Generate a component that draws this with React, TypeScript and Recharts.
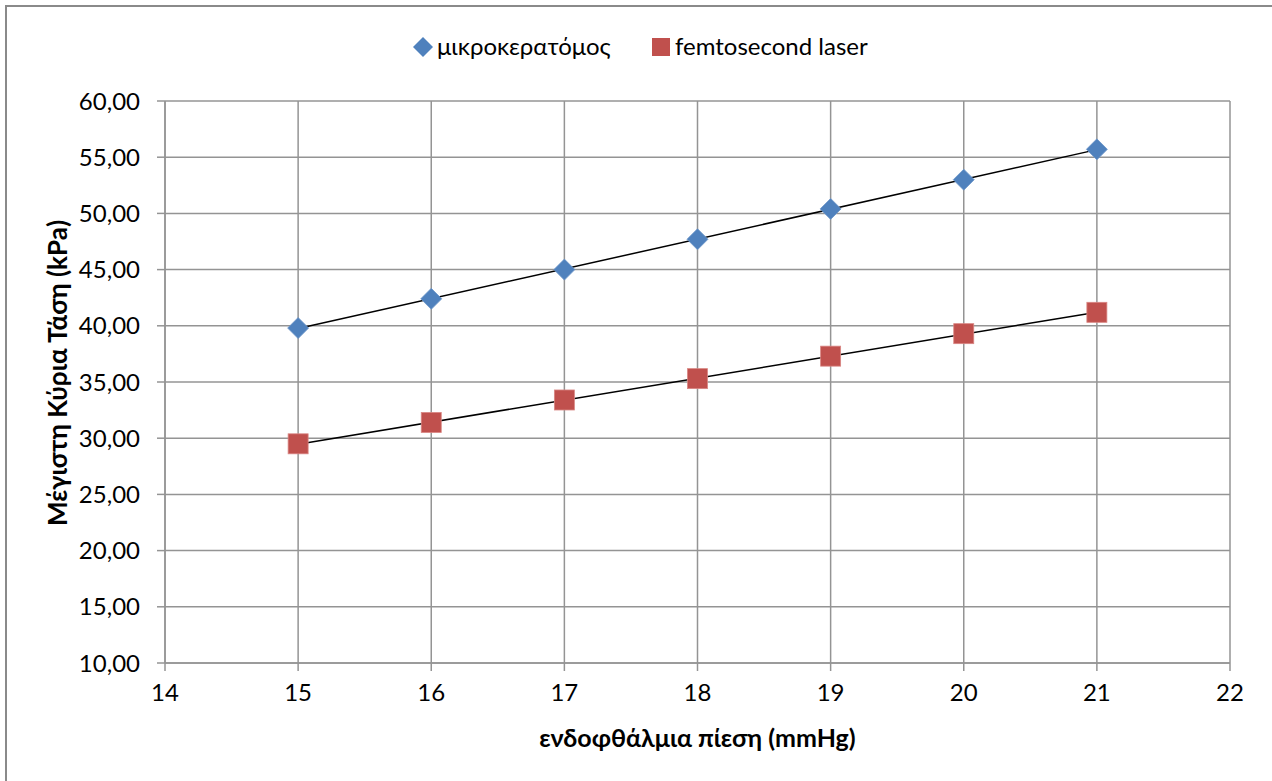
import { ComposedChart, Scatter, Line, XAxis, YAxis, CartesianGrid } from 'recharts';

// ενδοφθάλμια πίεση (mmHg)
const PRESSURE = [15, 16, 17, 18, 19, 20, 21];
// Μέγιστη Κύρια Τάση (kPa)
const MICROKERATOME = [39.8, 42.4, 45.0, 47.7, 50.4, 53.0, 55.7];
const FEMTO_LASER = [29.5, 31.4, 33.4, 35.3, 37.3, 39.3, 41.2];

const X_TICKS = [14, 15, 16, 17, 18, 19, 20, 21, 22];
const Y_TICKS = [10, 15, 20, 25, 30, 35, 40, 45, 50, 55, 60];

const SERIES_NAMES = ['μικροκερατόμος', 'femtosecond laser'];

const BLUE = '#4F81BD';
const RED = '#C0504D';
const GRID = '#949494';
const FONT = "Lato, 'Open Sans', sans-serif";

function points(xs: number[], ys: number[]) {
  return xs.map((x, i) => ({ x, y: ys[i] }));
}

// linear trendline (least squares), like Excel's
function trend(xs: number[], ys: number[]) {
  const n = xs.length;
  const mx = xs.reduce((a, b) => a + b, 0) / n;
  const my = ys.reduce((a, b) => a + b, 0) / n;
  let sxy = 0, sxx = 0;
  xs.forEach((x, i) => { sxy += (x - mx) * (ys[i] - my); sxx += (x - mx) ** 2; });
  const k = sxy / sxx;
  const b = my - k * mx;
  return [xs[0], xs[n - 1]].map(x => ({ x, y: k * x + b }));
}

function Diamond(props: any) {
  const { cx, cy } = props;
  if (cx == null || cy == null) return null;
  const r = 10.5;
  return (
    <polygon
      points={`${cx},${cy - r} ${cx + r},${cy} ${cx},${cy + r} ${cx - r},${cy}`}
      fill={BLUE} stroke="#6f97c9" strokeWidth={0.8}
    />
  );
}

function Square(props: any) {
  const { cx, cy } = props;
  if (cx == null || cy == null) return null;
  return <rect x={cx - 10} y={cy - 10} width={20} height={20} fill={RED} stroke="#d98683" strokeWidth={0.8} />;
}

const fmt = (v: number) => v.toFixed(2).replace('.', ',');

export default function App() {
  const tickStyle = { fill: '#000', fontSize: 24, fontFamily: FONT };
  const titleStyle = { fill: '#000', fontSize: 25, fontWeight: 700, fontFamily: FONT };

  return (
    <div style={{ position: 'absolute', left: 0, top: 0, width: 1272, height: 781, overflow: 'hidden', background: '#fff', fontFamily: FONT }}>
      <div style={{ position: 'absolute', left: 5, top: 5, width: 1300, height: 800, borderLeft: '2px solid #8a8a8a', borderTop: '2px solid #8a8a8a' }} />

      {/* legend */}
      <div style={{ position: 'absolute', left: 0, top: 33, width: 1272, height: 28, fontSize: 24, color: '#000' }}>
        <svg style={{ position: 'absolute', left: 412, top: 3 }} width={22} height={22}>
          <polygon points="11,1 21,11 11,21 1,11" fill={BLUE} />
        </svg>
        <span style={{ position: 'absolute', left: 437, top: -1, lineHeight: '28px' }}>{SERIES_NAMES[0]}</span>
        <svg style={{ position: 'absolute', left: 652, top: 5 }} width={18} height={18}>
          <rect x={0} y={0} width={18} height={18} fill={RED} />
        </svg>
        <span style={{ position: 'absolute', left: 675, top: -1, lineHeight: '28px' }}>{SERIES_NAMES[1]}</span>
      </div>

      <ComposedChart
        width={1272}
        height={781}
        margin={{ top: 101, right: 42, bottom: 0, left: 0 }}
        style={{ position: 'absolute', left: 0, top: 0 }}
      >
        <CartesianGrid stroke={GRID} strokeWidth={1.5} />
        <XAxis
          type="number"
          dataKey="x"
          domain={[14, 22]}
          ticks={X_TICKS}
          interval={0}
          height={118}
          tickSize={8}
          tickMargin={13}
          tick={tickStyle}
          axisLine={{ stroke: GRID, strokeWidth: 1.5 }}
          tickLine={{ stroke: GRID, strokeWidth: 1.5 }}
          label={{
            value: 'ενδοφθάλμια πίεση (mmHg)',
            position: 'insideBottom',
            offset: 34,
            style: titleStyle,
          }}
        />
        <YAxis
          type="number"
          domain={[10, 60]}
          ticks={Y_TICKS}
          interval={0}
          width={165}
          tickSize={8}
          tickMargin={17}
          tickFormatter={fmt}
          tick={tickStyle}
          axisLine={{ stroke: GRID, strokeWidth: 1.5 }}
          tickLine={{ stroke: GRID, strokeWidth: 1.5 }}
          label={{
            value: 'Μέγιστη Κύρια Τάση (kPa)',
            angle: -90,
            position: 'insideLeft',
            offset: 0,
            content: (p: any) => {
              const vb = p.viewBox || {};
              const cx = (vb.x ?? 0) + 57;
              const cy = (vb.y ?? 0) + (vb.height ?? 0) / 2 - 9;
              return (
                <text
                  x={cx} y={cy}
                  transform={`rotate(-90 ${cx} ${cy})`}
                  textAnchor="middle" dominantBaseline="central"
                  style={{ ...titleStyle, fontSize: 26 }}
                >
                  Μέγιστη Κύρια Τάση (kPa)
                </text>
              );
            },
          }}
        />
        <Scatter name={SERIES_NAMES[0]} data={points(PRESSURE, MICROKERATOME)} dataKey="y" shape={<Diamond />} isAnimationActive={false} />
        <Scatter name={SERIES_NAMES[1]} data={points(PRESSURE, FEMTO_LASER)} dataKey="y" shape={<Square />} isAnimationActive={false} />
        <Line data={trend(PRESSURE, MICROKERATOME)} dataKey="y" type="linear" stroke="#000" strokeWidth={1.5} dot={false} activeDot={false} isAnimationActive={false} />
        <Line data={trend(PRESSURE, FEMTO_LASER)} dataKey="y" type="linear" stroke="#000" strokeWidth={1.5} dot={false} activeDot={false} isAnimationActive={false} />
      </ComposedChart>
    </div>
  );
}
